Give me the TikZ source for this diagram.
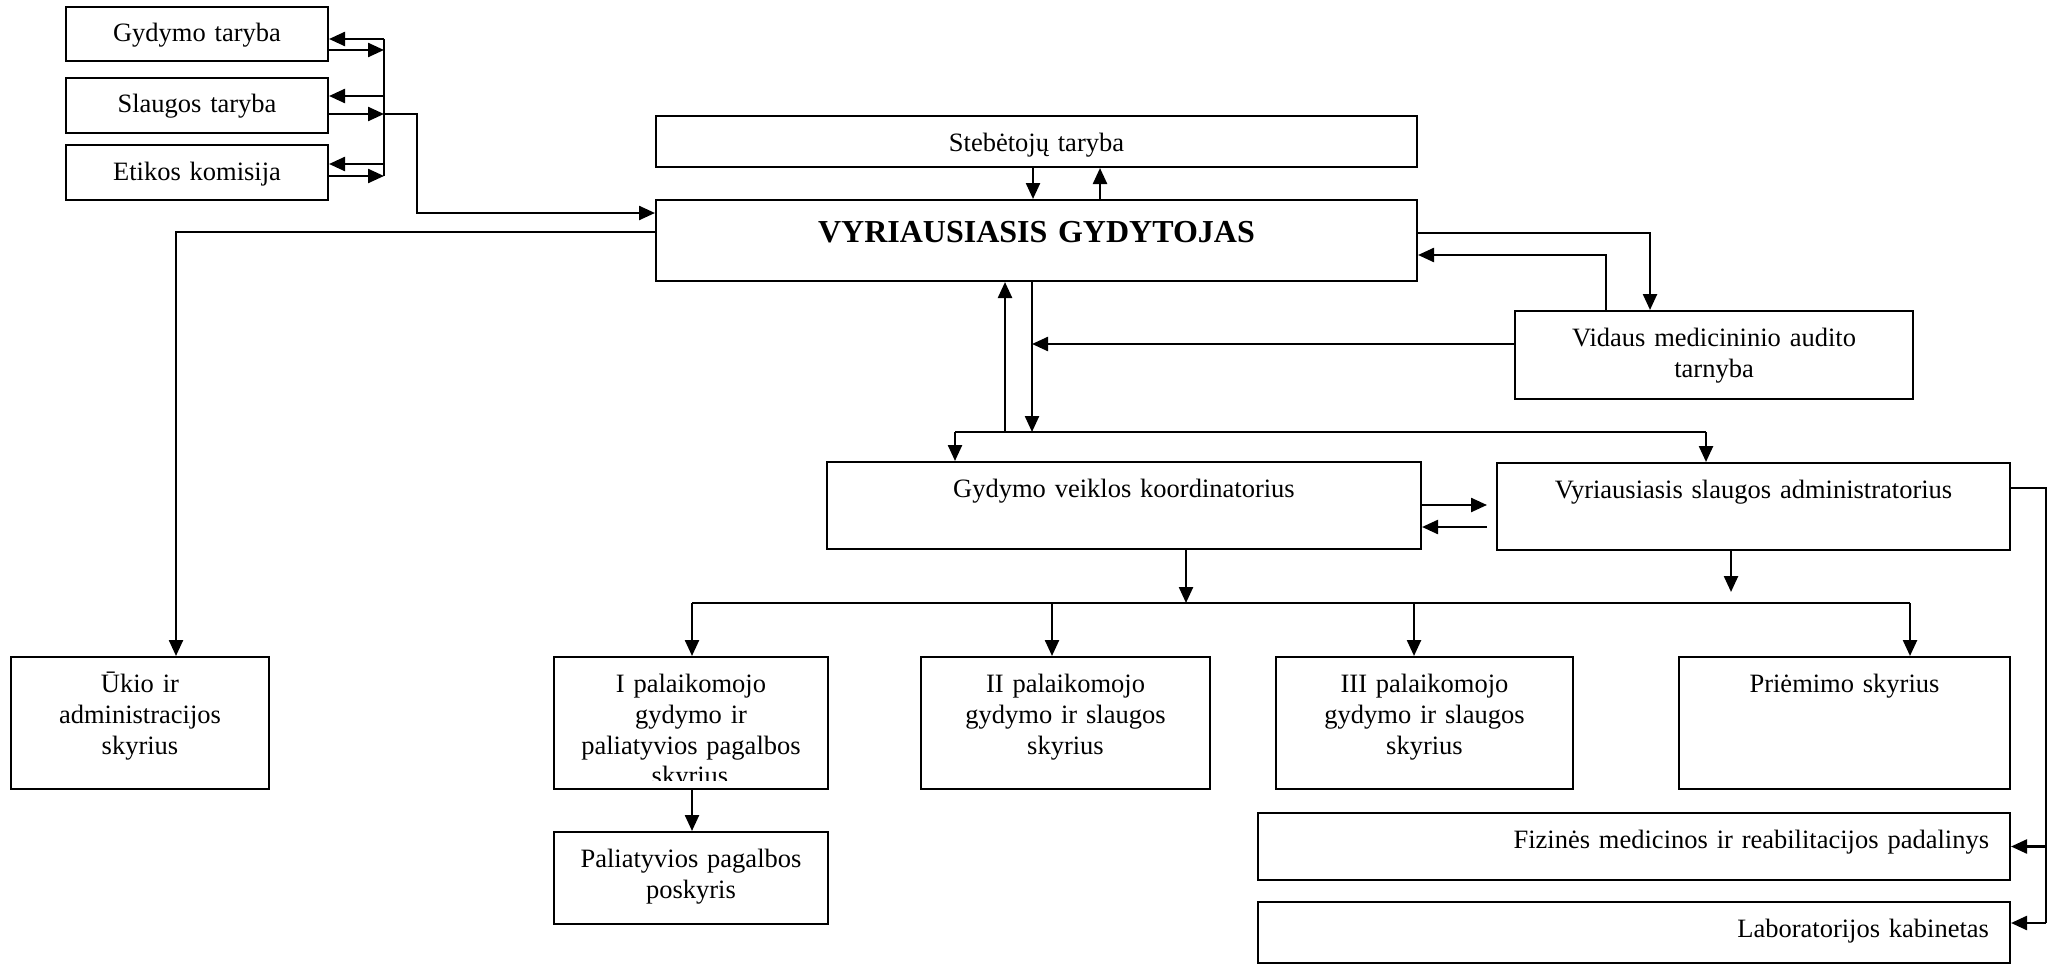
\documentclass[tikz,border=0pt]{standalone}
\usepackage{fontspec}
\setmainfont{Liberation Serif}
\usetikzlibrary{arrows.meta}

\tikzset{
  unit/.style 2 args={draw, line width=2pt, anchor=north west, inner sep=0pt,
    align=center, minimum width=#1pt, text width=#1pt-24pt,
    text height=35pt, text depth=#2pt},
  wire/.style={line width=2.4pt},
  flow/.style={wire, -{Triangle[length=16pt,width=14pt]}},
}

\begin{document}
\begin{tikzpicture}[x=1pt, y=-1pt, font=\fontsize{26.5}{31}\selectfont]
\useasboundingbox (0,0) rectangle (2049,963);

% tarybos
\node[unit={262}{19}] (gt) at (65,6) {Gydymo taryba};
\node[unit={262}{20}] (st) at (65,77) {Slaugos taryba};
\node[unit={262}{20}] (ek) at (65,144) {Etikos komisija};

% vadovybe
\node[unit={761}{16}] (steb) at (655,115) {Stebėtojų taryba};
\node[unit={761}{39}, text height=42pt, font=\fontsize{32}{38}\selectfont\bfseries] (vg) at (655,199) {VYRIAUSIASIS GYDYTOJAS};
\node[unit={398}{53}] (vmat) at (1514,310) {Vidaus medicininio audito\\tarnyba};
\node[unit={594}{52}] (gvk) at (826,461) {Gydymo veiklos koordinatorius};
\node[unit={513}{52}] (vsa) at (1496,462) {Vyriausiasis slaugos administratorius};

% skyriai
\node[unit={258}{97}] (ukio) at (10,656) {Ūkio ir\\administracijos\\skyrius};
\node[unit={274}{97}] (pal1) at (553,656) {I palaikomojo\\gydymo ir\\paliatyvios pagalbos};
\node[unit={289}{97}] (pal2) at (920,656) {II palaikomojo\\gydymo ir slaugos\\skyrius};
\node[unit={297}{97}] (pal3) at (1275,656) {III palaikomojo\\gydymo ir slaugos\\skyrius};
\node[unit={331}{97}] (priem) at (1678,656) {Priėmimo skyrius};
\node[unit={274}{57}] (palp) at (553,831) {Paliatyvios pagalbos\\poskyris};
\node[unit={752}{32}, align=right, text width=710pt] (fiz) at (1257,812) {Fizinės medicinos ir reabilitacijos padalinys};
\node[unit={752}{26}, align=right, text width=710pt] (lab) at (1257,901) {Laboratorijos kabinetas};

% nukirpta eilute
\begin{scope}
  \clip (pal1.north west) rectangle ([yshift=10pt]pal1.south east);
  \node[anchor=base] (pal1end) at (690,784) {skyrius};
\end{scope}

% tarybu magistrale
\coordinate (bt) at (384,39);
\coordinate (bm) at (384,114);
\coordinate (bb) at (384,176);
\draw[wire] (bt) -- (bb);
\draw[flow] (bt) -- (bt -| gt.east);
\draw[flow] (gt.east |- 0,50) -- (bt |- 0,50);
\draw[flow] (bt |- 0,96) -- (st.east |- 0,96);
\draw[flow] (st.east |- bm) -- (bm);
\draw[flow] (bt |- 0,164) -- (ek.east |- 0,164);
\draw[flow] (ek.east |- bb) -- (bb);
\draw[flow] (bm) -- ++(33,0) |- (vg.west |- 0,213);

% VG - Ukio
\draw[flow] (vg.west |- 0,232) -| (ukio.north -| 176,0);

% VG - Stebetoju taryba
\draw[flow] (steb.south -| 1033,0) -- (vg.north -| 1033,0);
\draw[flow] (vg.north -| 1100,0) -- (steb.south -| 1100,0);

% VG - auditas
\draw[flow] (vg.east |- 0,233) -| (vmat.north -| 1650,0);
\draw[flow] (vmat.north -| 1606,0) |- (vg.east |- 0,255);

% VG - koordinatoriai
\coordinate (kl) at (955,432);
\coordinate (kr) at (1706,432);
\coordinate (vgd) at (1032,432);
\draw[wire] (kl) -- (kr);
\draw[flow] (vg.south -| vgd) -- (vgd);
\draw[flow] (kl -| 1005,0) -- (vg.south -| 1005,0);
\draw[flow] (vmat.west |- 0,344) -- (vgd |- 0,344);
\draw[flow] (kl) -- (kl |- gvk.north);
\draw[flow] (kr) -- (kr |- vsa.north);
\draw[flow, shorten >=9pt] (gvk.east |- 0,505) -- (vsa.west |- 0,505);
\draw[flow, shorten <=9pt] (vsa.west |- 0,527) -- (gvk.east |- 0,527);

% skyriu magistrale
\coordinate (sl) at (692,603);
\coordinate (sr) at (1910,603);
\draw[wire] (sl) -- (sr);
\draw[flow] (gvk.south -| 1186,0) -- (sl -| 1186,0);
\draw[flow, shorten >=11pt] (vsa.south -| 1731,0) -- (sl -| 1731,0);
\draw[flow] (sl) -- (sl |- pal1.north);
\draw[flow] (sl -| 1052,0) -- (pal2.north -| 1052,0);
\draw[flow] (sl -| 1414,0) -- (pal3.north -| 1414,0);
\draw[flow] (sr) -- (sr |- priem.north);
\draw[flow] (pal1.south -| sl) -- (palp.north -| sl);

% VSA - padaliniai
\coordinate (vr) at (2046,488);
\coordinate (vb) at (2046,923);
\draw[wire] (vsa.east |- vr) -- (vr) -- (vb);
\draw[flow] (vr |- fiz.east) -- (fiz.east);
\draw[flow] (vb) -- (lab.east |- vb);
\end{tikzpicture}
\end{document}
